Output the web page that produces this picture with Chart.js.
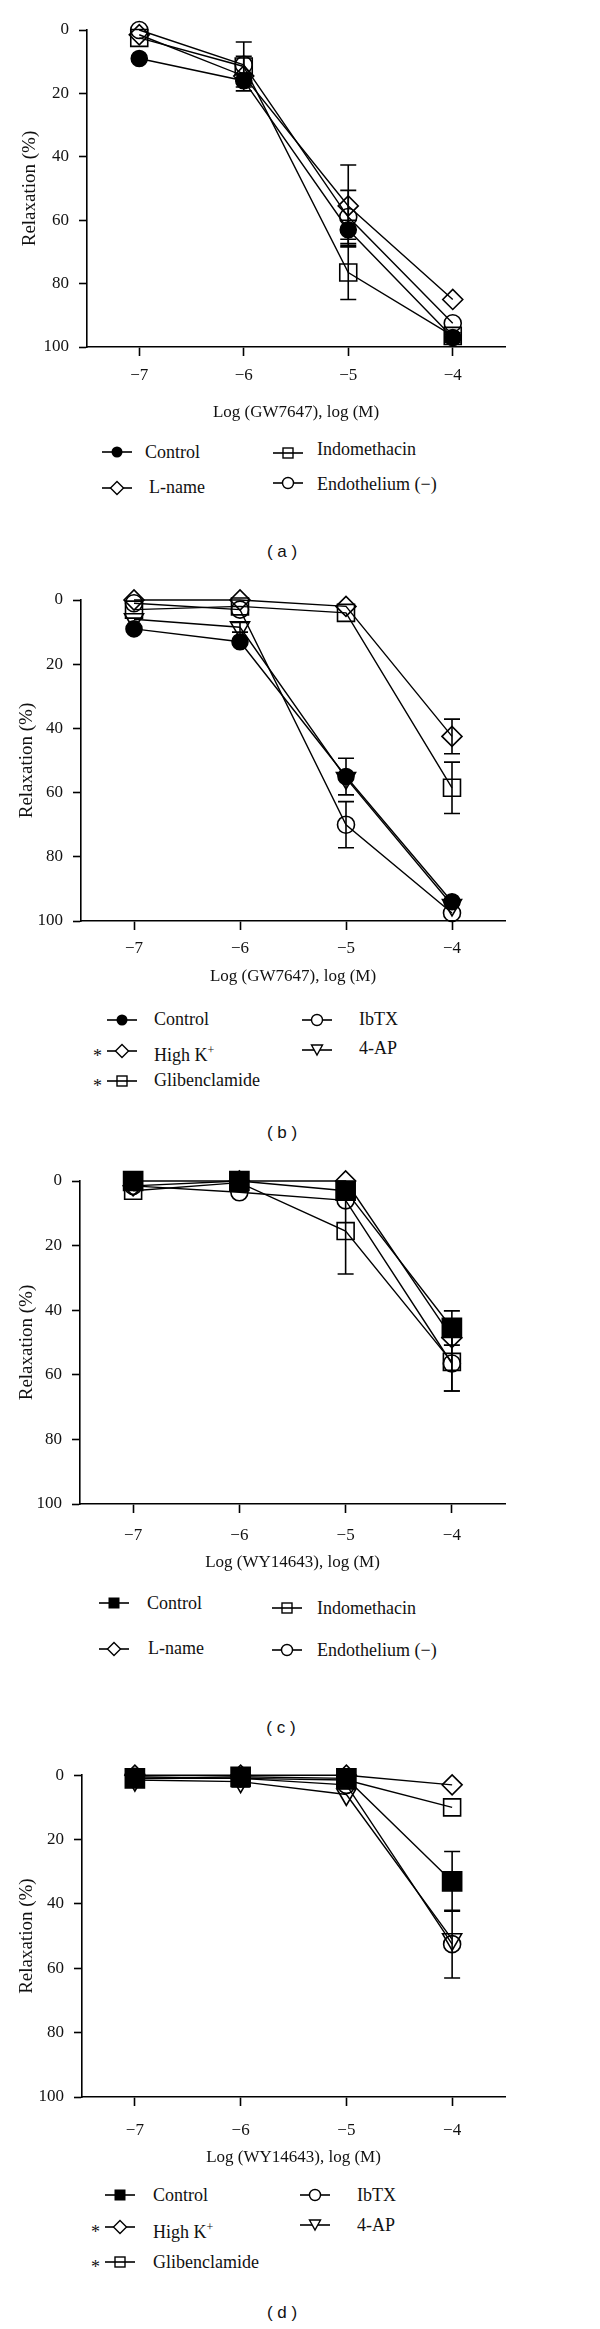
<!DOCTYPE html>
<html>
<head>
<meta charset="utf-8">
<script src="https://cdn.jsdelivr.net/npm/chart.js@4.4.0/dist/chart.umd.min.js"></script>
<style>
  body { margin: 0; background: #fff; width: 600px; height: 2329px; position: relative; overflow: hidden; font-family: "Liberation Serif", serif; color: #111; }
  canvas { position: absolute; left: 0; }
  .lg { position: absolute; font-size: 18px; line-height: 20px; white-space: nowrap; }
  .star { position: absolute; font-size: 18px; line-height: 20px; color: #111; }
  .ic { position: absolute; }
  .cap { position: absolute; font-family: "Liberation Sans", Arial, sans-serif; font-size: 17px; line-height: 20px; transform: translateX(-50%); white-space: pre; }
</style>
</head>
<body>
<canvas id="chartA"></canvas>
<canvas id="chartB"></canvas>
<canvas id="chartC"></canvas>
<canvas id="chartD"></canvas>
<div id="extras"></div>

<script>
// eixo x: log da concentração
const doses = [-7, -6, -5, -4];
const xTicks = [-7, -6, -5, -4];
const yTicks = [0, 20, 40, 60, 80, 100];

// (a) GW7647
const aControl = [9, 16, 63, 97];
const aControlErr = [0, 2, 3, 1.5];
const aLname = [1.5, 14.5, 55.5, 85];
const aLnameErr = [0, 0, 12.9, 0];
const aIndo = [2.5, 11.5, 76.5, 96.5];
const aIndoErr = [0, 7.7, 8.5, 0];
const aEndo = [0, 11, 59, 92.5];
const aEndoErr = [0, 2.7, 8.4, 0];

// (b) GW7647, canais de K+
const bControl = [9, 13, 55, 94];
const bControlErr = [0, 0, 5.7, 0];
const bHighK = [0, 0, 2, 42.5];
const bHighKErr = [0, 0, 0, 5.4];
const bGliben = [3, 2, 4, 58.5];
const bGlibenErr = [0, 0, 0, 8];
const bIbtx = [1, 3, 70, 97.5];
const bIbtxErr = [0, 0, 7.2, 0];
const b4ap = [6, 8.5, 55.5, 95];
const b4apErr = [0, 1.5, 0, 0];

// (c) WY14643
const cControl = [0, 0, 3, 45.5];
const cControlErr = [0, 0, 0, 5.3];
const cLname = [1.5, 0, 0, 48.5];
const cLnameErr = [0, 0, 0, 0];
const cIndo = [3, 0.5, 15.5, 56];
const cIndoErr = [0, 0, 13.3, 9];
const cEndo = [1.5, 3.5, 6, 56.5];
const cEndoErr = [0, 0, 0, 8.5];

// (d) WY14643, canais de K+
const dControl = [1, 0.5, 1, 33];
const dControlErr = [0, 0, 0, 9.3];
const dHighK = [0, 0, 0, 3];
const dHighKErr = [0, 0, 0, 0];
const dGliben = [1, 1, 1.5, 10];
const dGlibenErr = [0, 0, 0, 0];
const dIbtx = [0.5, 1, 3, 52.5];
const dIbtxErr = [0, 0, 0, 10.5];
const d4ap = [1.5, 2, 6, 51];
const d4apErr = [0, 0, 0, 0];

const STYLE = {
    filledCircle: { pointStyle: 'circle', pointRadius: 8, fill: '#000' },
    circle: { pointStyle: 'circle', pointRadius: 8.5, fill: 'rgba(0,0,0,0)' },
    diamond: { pointStyle: 'rectRot', pointRadius: 10, fill: 'rgba(0,0,0,0)' },
    square: { pointStyle: 'rect', pointRadius: 12, fill: 'rgba(0,0,0,0)' },
    filledSquare: { pointStyle: 'rect', pointRadius: 13.5, fill: '#000' },
    triangleDown: { pointStyle: 'triangle', pointRadius: 11, fill: 'rgba(0,0,0,0)', rotation: 180 }
};

function serie(label, vals, errs, mk) {
    const s = STYLE[mk];
    return {
        label: label,
        data: doses.map((x, i) => ({ x: x, y: vals[i] })),
        err: errs,
        marker: mk,
        borderColor: '#000',
        borderWidth: 1.4,
        backgroundColor: s.fill,
        pointBackgroundColor: s.fill,
        pointBorderColor: '#000',
        pointBorderWidth: 1.6,
        pointStyle: s.pointStyle,
        pointRadius: s.pointRadius,
        pointHoverRadius: s.pointRadius,
        pointRotation: s.rotation || 0,
        clip: false,
        tension: 0,
        fill: false
    };
}

// barras de erro (EPM)
const errorBars = {
    id: 'errorBars',
    beforeDatasetsDraw(chart) {
        const ctx = chart.ctx;
        const xs = chart.scales.x;
        const ys = chart.scales.y;
        ctx.save();
        ctx.strokeStyle = '#000';
        ctx.lineWidth = 1.6;
        chart.data.datasets.forEach(ds => {
            ds.data.forEach((p, i) => {
                const e = ds.err[i];
                if (!e) return;
                const px = xs.getPixelForValue(p.x);
                const top = ys.getPixelForValue(p.y - e);
                const bot = ys.getPixelForValue(p.y + e);
                ctx.beginPath();
                ctx.moveTo(px, top); ctx.lineTo(px, bot);
                ctx.moveTo(px - 8, top); ctx.lineTo(px + 8, top);
                ctx.moveTo(px - 8, bot); ctx.lineTo(px + 8, bot);
                ctx.stroke();
            });
        });
        ctx.restore();
    }
};

function fmt(v) {
    return v < 0 ? '\u2212' + Math.abs(v) : String(v);
}

function criarGrafico(id, g, datasets, xTitle) {
    const cv = document.getElementById(id);
    cv.width = 600;
    cv.height = g.h;
    cv.style.top = g.top + 'px';
    return new Chart(cv.getContext('2d'), {
        type: 'line',
        data: { datasets: datasets },
        plugins: [errorBars],
        options: {
            responsive: false,
            animation: false,
            layout: { padding: { left: g.pl, top: g.pt, right: 95, bottom: g.pb } },
            plugins: { legend: { display: false }, tooltip: { enabled: false } },
            scales: {
                x: {
                    type: 'linear',
                    min: -7.5,
                    max: -3.5,
                    afterBuildTicks: s => { s.ticks = xTicks.map(v => ({ value: v })); },
                    afterFit: s => { s.height = g.xh; },
                    grid: { drawOnChartArea: false, drawTicks: true, tickLength: 9, tickWidth: 1.6, tickColor: '#000' },
                    border: { color: '#000', width: 1.6 },
                    ticks: { color: '#111', padding: g.xpad, font: { family: 'Liberation Serif', size: 17 }, callback: v => fmt(v) },
                    title: { display: true, text: xTitle, color: '#111', padding: 0, font: { family: 'Liberation Serif', size: 17 } }
                },
                y: {
                    type: 'linear',
                    reverse: true,
                    min: 0,
                    max: 100,
                    afterBuildTicks: s => { s.ticks = yTicks.map(v => ({ value: v })); },
                    afterFit: s => { s.width = g.yw; },
                    grid: { drawOnChartArea: false, drawTicks: true, tickLength: 8, tickWidth: 1.6, tickColor: '#000' },
                    border: { color: '#000', width: 1.6 },
                    ticks: { color: '#111', padding: 10, font: { family: 'Liberation Serif', size: 17 } },
                    title: { display: true, text: 'Relaxation (%)', color: '#111', padding: 0, font: { family: 'Liberation Serif', size: 19 } }
                }
            }
        }
    });
}

function icone(mk) {
    let m = '';
    switch (mk) {
        case 'filledCircle': m = '<circle cx="15" cy="8" r="5.5" fill="#000"/>'; break;
        case 'circle': m = '<circle cx="15" cy="8" r="5.5" fill="#fff" stroke="#000" stroke-width="1.4"/>'; break;
        case 'diamond': m = '<polygon points="15,1.5 21.5,8 15,14.5 8.5,8" fill="#fff" stroke="#000" stroke-width="1.4"/>'; break;
        case 'square': m = '<rect x="10" y="3" width="10" height="10" fill="none" stroke="#000" stroke-width="1.4"/>'; break;
        case 'filledSquare': m = '<rect x="9.5" y="2.5" width="11" height="11" fill="#000"/>'; break;
        case 'triangleDown': m = '<polygon points="9.5,3 20.5,3 15,13" fill="#fff" stroke="#000" stroke-width="1.4"/>'; break;
    }
    return '<svg width="30" height="16"><line x1="0" y1="8" x2="30" y2="8" stroke="#000" stroke-width="1.6"/>' + m + '</svg>';
}

const extras = document.getElementById('extras');

function legenda(chart, itens) {
    chart.data.datasets.forEach((ds, i) => {
        const it = itens[i];
        const ic = document.createElement('div');
        ic.className = 'ic';
        ic.style.left = (it.ix - 15) + 'px';
        ic.style.top = (it.iy - 8) + 'px';
        ic.innerHTML = icone(ds.marker);
        extras.appendChild(ic);

        const tx = document.createElement('div');
        tx.className = 'lg';
        tx.style.left = it.tx + 'px';
        tx.style.top = (it.ty - 10) + 'px';
        tx.innerHTML = it.html || ds.label;
        extras.appendChild(tx);

        if (it.star) {
            const st = document.createElement('div');
            st.className = 'star';
            st.style.left = (it.star - 4) + 'px';
            st.style.top = (it.iy - 5) + 'px';
            st.textContent = '*';
            extras.appendChild(st);
        }
    });
}

function legendaPainel(txt, x, y) {
    const c = document.createElement('div');
    c.className = 'cap';
    c.style.left = x + 'px';
    c.style.top = (y - 10) + 'px';
    c.textContent = txt;
    extras.appendChild(c);
}

const chartA = criarGrafico('chartA', { top: 0, h: 430, pl: 19, pt: 30, pb: 7, yw: 68, xh: 76, xpad: 9 }, [
    serie('Control', aControl, aControlErr, 'filledCircle'),
    serie('L-name', aLname, aLnameErr, 'diamond'),
    serie('Indomethacin', aIndo, aIndoErr, 'square'),
    serie('Endothelium (\u2212)', aEndo, aEndoErr, 'circle')
], 'Log (GW7647), log (M)');

const chartB = criarGrafico('chartB', { top: 570, h: 430, pl: 16, pt: 30, pb: 13, yw: 65, xh: 66, xpad: 8 }, [
    serie('Control', bControl, bControlErr, 'filledCircle'),
    serie('High K+', bHighK, bHighKErr, 'diamond'),
    serie('Glibenclamide', bGliben, bGlibenErr, 'square'),
    serie('IbTX', bIbtx, bIbtxErr, 'circle'),
    serie('4-AP', b4ap, b4apErr, 'triangleDown')
], 'Log (GW7647), log (M)');

const chartC = criarGrafico('chartC', { top: 1160, h: 420, pl: 16, pt: 21, pb: 7, yw: 64, xh: 69, xpad: 12 }, [
    serie('Control', cControl, cControlErr, 'filledSquare'),
    serie('L-name', cLname, cLnameErr, 'diamond'),
    serie('Indomethacin', cIndo, cIndoErr, 'square'),
    serie('Endothelium (\u2212)', cEndo, cEndoErr, 'circle')
], 'Log (WY14643), log (M)');

const chartD = criarGrafico('chartD', { top: 1755, h: 420, pl: 16, pt: 20, pb: 7, yw: 66, xh: 71, xpad: 14 }, [
    serie('Control', dControl, dControlErr, 'filledSquare'),
    serie('High K+', dHighK, dHighKErr, 'diamond'),
    serie('Glibenclamide', dGliben, dGlibenErr, 'square'),
    serie('IbTX', dIbtx, dIbtxErr, 'circle'),
    serie('4-AP', d4ap, d4apErr, 'triangleDown')
], 'Log (WY14643), log (M)');

legenda(chartA, [
    { ix: 117, iy: 452, tx: 145, ty: 452 },
    { ix: 117, iy: 488, tx: 149, ty: 487 },
    { ix: 288, iy: 453, tx: 317, ty: 449 },
    { ix: 288, iy: 483, tx: 317, ty: 484 }
]);
legenda(chartB, [
    { ix: 122, iy: 1020, tx: 154, ty: 1019 },
    { ix: 122, iy: 1051, tx: 154, ty: 1050, star: 97, html: 'High K<sup style="font-size:12px">+</sup>' },
    { ix: 122, iy: 1081, tx: 154, ty: 1080, star: 97 },
    { ix: 317, iy: 1020, tx: 359, ty: 1019 },
    { ix: 317, iy: 1050, tx: 359, ty: 1048 }
]);
legenda(chartC, [
    { ix: 114, iy: 1603, tx: 147, ty: 1603 },
    { ix: 114, iy: 1649, tx: 148, ty: 1648 },
    { ix: 287, iy: 1608, tx: 317, ty: 1608 },
    { ix: 287, iy: 1650, tx: 317, ty: 1650 }
]);
legenda(chartD, [
    { ix: 120, iy: 2195, tx: 153, ty: 2195 },
    { ix: 120, iy: 2227, tx: 153, ty: 2227, star: 95, html: 'High K<sup style="font-size:12px">+</sup>' },
    { ix: 120, iy: 2262, tx: 153, ty: 2262, star: 95 },
    { ix: 315, iy: 2195, tx: 357, ty: 2195 },
    { ix: 315, iy: 2225, tx: 357, ty: 2225 }
]);

legendaPainel('( a )', 282, 552);
legendaPainel('( b )', 282, 1133);
legendaPainel('( c )', 281, 1728);
legendaPainel('( d )', 282, 2313);
</script>
</body>
</html>
